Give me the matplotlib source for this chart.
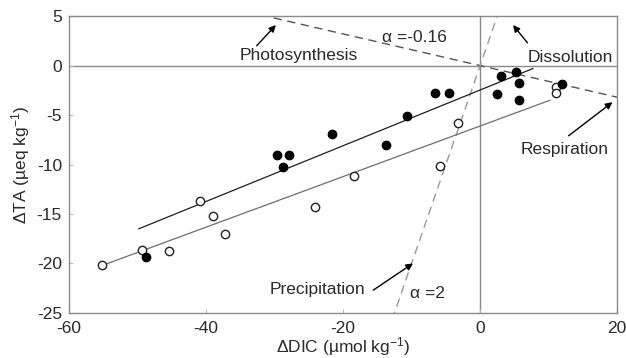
import matplotlib
matplotlib.use('Agg')
import matplotlib.pyplot as plt

# filled circles
filled_dic = [-48.7, -29.6, -27.9, -28.8, -21.6, -13.8, -10.6, -6.6, -4.6, 3.0, 5.2, 5.6, 2.4, 5.6, 11.9]
filled_ta = [-19.3, -9.0, -9.0, -10.3, -6.9, -8.0, -5.1, -2.8, -2.8, -1.1, -0.7, -1.8, -2.9, -3.5, -1.9]

# open circles
open_dic = [-55.1, -49.3, -45.4, -40.8, -39.0, -37.2, -24.1, -18.4, -5.8, -3.3, 11.1, 11.1]
open_ta = [-20.2, -18.6, -18.7, -13.7, -15.2, -17.0, -14.3, -11.2, -10.2, -5.8, -2.2, -2.8]

# regression lines (end points)
fit_filled_x = [-49.8, 7.7]
fit_filled_y = [-16.5, -0.3]
fit_open_x = [-55.1, 10.2]
fit_open_y = [-20.2, -3.5]

# alpha reference lines through the origin
alpha_low = -0.16
alpha_high = 2.0

xticks = [-60, -40, -20, 0, 20]
yticks = [5, 0, -5, -10, -15, -20, -25]

plt.rcParams['font.family'] = ['Liberation Sans', 'DejaVu Sans']
plt.rcParams['mathtext.fontset'] = 'custom'
plt.rcParams['mathtext.rm'] = 'Liberation Sans'
plt.rcParams['mathtext.default'] = 'regular'
plt.rcParams['axes.unicode_minus'] = False

txt = '#2a2a2a'
grey = '#8a8a8a'
fs = 12.5

fig = plt.figure(figsize=(6.26, 3.58), dpi=100)
ax = fig.add_axes([0.110, 0.126, 0.876, 0.829])
ax.set_xlim(-60, 20)
ax.set_ylim(-25, 5)

# zero lines
ax.axhline(0, color=grey, lw=1.0, zorder=1)
ax.axvline(0, color=grey, lw=1.0, zorder=1)

# alpha lines
xl = [-40, 20]
ax.plot(xl, [alpha_low * v for v in xl], color='#555555', lw=1.0, ls=(0, (6, 4)), zorder=1)
xh = [-15, 5]
ax.plot(xh, [alpha_high * v for v in xh], color='#999999', lw=1.0, ls=(0, (6, 4)), zorder=1)

# fits
ax.plot(fit_filled_x, fit_filled_y, color='#1e1e1e', lw=0.9, zorder=2)
ax.plot(fit_open_x, fit_open_y, color='#6e6e6e', lw=0.9, zorder=2)

ax.plot(open_dic, open_ta, 'o', ms=6, mfc='white', mec='#222222', mew=1.0, zorder=3)
ax.plot(filled_dic, filled_ta, 'o', ms=6, mfc='black', mec='black', zorder=4)

# annotations: text + separate arrow (tail -> head)
arr = dict(arrowstyle='-|>', color='black', lw=1.0, mutation_scale=10, shrinkA=0, shrinkB=0)
ax.text(-26.4, 1.05, 'Photosynthesis', fontsize=fs, color=txt, ha='center', va='center')
ax.annotate('', xy=(-29.8, 4.1), xytext=(-32.6, 2.0), arrowprops=arr)

ax.text(-14.3, 2.8, 'α =-0.16', fontsize=fs, color=txt, ha='left', va='center')

ax.text(13.2, 0.85, 'Dissolution', fontsize=fs, color=txt, ha='center', va='center')
ax.annotate('', xy=(4.8, 4.1), xytext=(6.9, 2.3), arrowprops=arr)

ax.text(12.3, -8.45, 'Respiration', fontsize=fs, color=txt, ha='center', va='center')
ax.annotate('', xy=(19.3, -3.7), xytext=(12.9, -7.1), arrowprops=arr)

ax.text(-23.7, -22.6, 'Precipitation', fontsize=fs, color=txt, ha='center', va='center')
ax.annotate('', xy=(-9.8, -20.0), xytext=(-15.6, -22.7), arrowprops=arr)

ax.text(-10.2, -23.0, 'α =2', fontsize=fs, color=txt, ha='left', va='center')

ax.set_xticks(xticks)
ax.set_yticks(yticks)
ax.tick_params(direction='in', length=3, color='#bbbbbb', labelsize=fs, labelcolor=txt)
ax.tick_params(axis='x', pad=6)
ax.tick_params(axis='y', pad=5)
for s in ax.spines.values():
    s.set_color(grey)
    s.set_linewidth(1.0)

ax.set_xlabel('ΔDIC (µmol kg$^{-1}$)', fontsize=fs, color=txt, labelpad=-1)
ax.set_ylabel('ΔTA (µeq kg$^{-1}$)', fontsize=fs, color=txt, labelpad=3)

fig.savefig('out.png', dpi=100, facecolor='white')
